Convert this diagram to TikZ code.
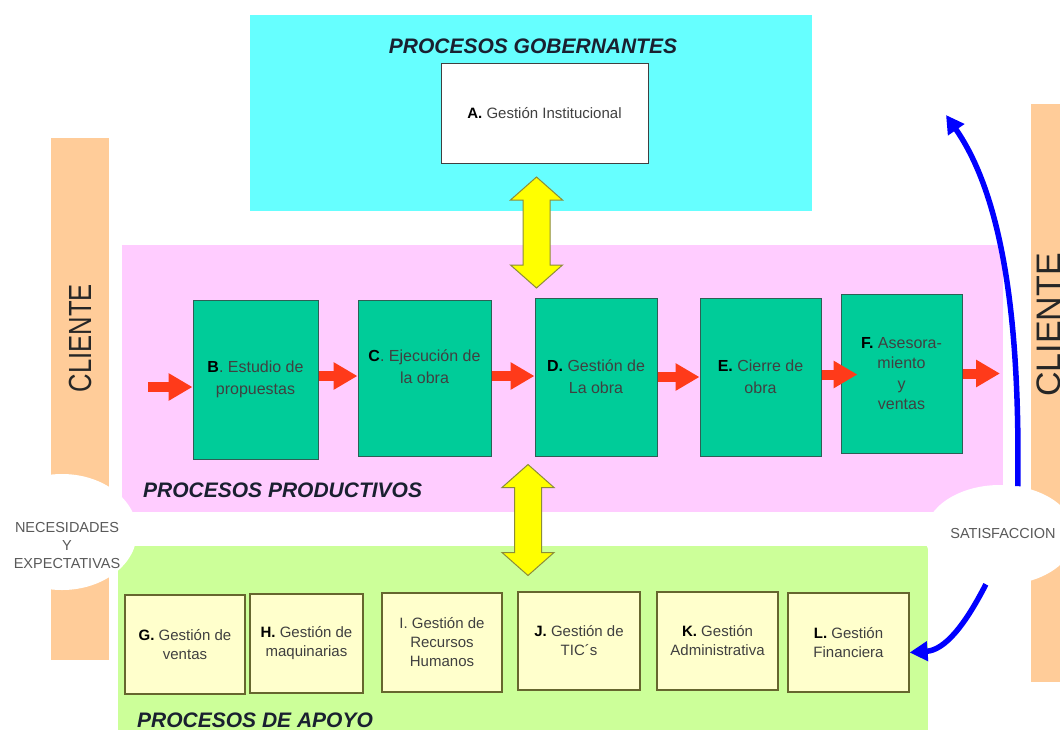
\documentclass[tikz,border=0pt]{standalone}
\usepackage{graphicx}
\usepackage{fontspec}
\setmainfont{Liberation Sans}
\usetikzlibrary{arrows.meta,shapes.geometric}
\definecolor{cyanbg}{HTML}{66FFFF}
\definecolor{pinkbg}{HTML}{FFCCFF}
\definecolor{greenbg}{HTML}{CCFF99}
\definecolor{orangebar}{HTML}{FFCC99}
\definecolor{procgreen}{HTML}{00CC99}
\definecolor{procborder}{HTML}{2E5E55}
\definecolor{creamfill}{HTML}{FFFFCC}
\definecolor{creamborder}{HTML}{66662E}
\definecolor{redarrow}{HTML}{FF3A1A}
\definecolor{yellowarrow}{HTML}{FFFF00}
\definecolor{yellowborder}{HTML}{8C8C3A}
\definecolor{bluearrow}{HTML}{0000FF}
\definecolor{txtgrey}{HTML}{404040}
\definecolor{titlecol}{HTML}{1A2030}
\tikzset{
  procbox/.style={draw=procborder, line width=1pt, fill=procgreen, inner sep=0pt, align=center, text=txtgrey, font=\fontsize{16}{22}\selectfont},
  supbox/.style={draw=creamborder, line width=1.2pt, fill=creamfill, inner sep=0pt, align=center, text=txtgrey, font=\fontsize{15}{19}\selectfont},
  govbox/.style={draw=black!75, line width=1pt, fill=white, inner sep=0pt, align=center, text=txtgrey, font=\fontsize{15}{19}\selectfont},
  areatitle/.style={inner sep=0pt, text=titlecol, font=\fontsize{21}{24}\selectfont\bfseries\itshape},
  clientetxt/.style={inner sep=0pt, rotate=90, text=black!85},
  smalltxt/.style={inner sep=0pt, align=center, text=black!65, font=\fontsize{14.5}{18}\selectfont},
  whiteoval/.style={ellipse, fill=white, inner sep=0pt},
  redflow/.style={draw=redarrow, line width=10pt, -{Triangle[width=26pt,length=24pt]}},
  blueflow/.style={draw=bluearrow, line width=5.5pt, -{Triangle[width=19pt,length=18pt]}},
  dblarrow/.pic={
    \draw[draw=yellowborder, fill=yellowarrow, line width=1pt, line join=miter]
      (0,-55.5) -- (26,-32.5) -- (13.5,-32.5) -- (13.5,32.5) -- (26,32.5) -- (0,55.5)
      -- (-26,32.5) -- (-13.5,32.5) -- (-13.5,-32.5) -- (-26,-32.5) -- cycle;
  }
}
\begin{document}
\begin{tikzpicture}[x=1pt, y=-1pt]
\useasboundingbox (0,0) rectangle (1060,729);
\clip (0,0) rectangle (1060,729);
\fill[white] (0,0) rectangle (1060,729);
% client bars
\fill[orangebar] (51,138) rectangle (109,660);
\fill[orangebar] (1031,104) rectangle (1066,682);
% areas
\fill[cyanbg] (250,15) rectangle (812,211);
\fill[pinkbg] (122,245) rectangle (1003,512);
\fill[greenbg] (118,546) rectangle (928,735);
% white ovals
\node[whiteoval, minimum width=150pt, minimum height=116pt] (necoval) at (62,532) {};
\node[whiteoval, minimum width=150pt, minimum height=100pt] (sat) at (1000,535) {};
% texts of client
\node[clientetxt, font=\fontsize{32}{32}\selectfont] (cliL) at (80,338) {\scalebox{0.8}[1]{CLIENTE}};
\node[clientetxt, font=\fontsize{34}{34}\selectfont] (cliR) at (1049,325) {CLIENTE};
\node[smalltxt] (nectxt) at (67,545) {NECESIDADES\\Y\\EXPECTATIVAS};
\node[smalltxt] (sattxt) at (1003,533) {SATISFACCION};
% governing
\node[areatitle] (tgob) at (533,46) {PROCESOS GOBERNANTES};
\node[govbox, minimum width=207pt, minimum height=100pt] (A) at (544.5,113.5) {\textbf{\color{black}A.} Gestión Institucional};
% productive
\node[procbox, minimum width=125pt, minimum height=159pt] (B) at (255.5,379.5) {\textbf{\color{black}B}. Estudio de\\propuestas};
\node[procbox, minimum width=133pt, minimum height=156pt] (C) at (424.5,378) {\textbf{\color{black}C}. Ejecución de\\la obra\\\mbox{}};
\node[procbox, minimum width=122pt, minimum height=158pt] (D) at (596,377) {\textbf{\color{black}D.} Gestión de\\La obra};
\node[procbox, minimum width=121pt, minimum height=158pt] (E) at (760.5,377) {\textbf{\color{black}E.} Cierre de\\obra};
\node[procbox, minimum width=121pt, minimum height=159pt, font=\fontsize{16}{20.5}\selectfont] (F) at (901.5,373.5) {\textbf{\color{black}F.} Asesora-\\miento\\y\\ventas};
\node[areatitle, anchor=west] (tprod) at (143,490) {PROCESOS PRODUCTIVOS};
% support
\node[supbox, minimum width=120pt, minimum height=99pt] (G) at (185,644.5) {\textbf{\color{black}G.} Gestión de\\ventas};
\node[supbox, minimum width=113pt, minimum height=99pt] (H) at (306.5,643.5) {\textbf{\color{black}H.} Gestión de\\maquinarias};
\node[supbox, minimum width=120pt, minimum height=99pt] (I) at (442,642.5) {I. Gestión de\\Recursos\\Humanos};
\node[supbox, minimum width=122pt, minimum height=98pt] (J) at (579,641) {\textbf{\color{black}J.} Gestión de\\TIC´s};
\node[supbox, minimum width=121pt, minimum height=98pt] (K) at (717.5,641) {\textbf{\color{black}K.} Gestión\\Administrativa};
\node[supbox, minimum width=121pt, minimum height=99pt] (L) at (848.5,642.5) {\textbf{\color{black}L.} Gestión\\Financiera};
\node[areatitle, anchor=west] (tapoyo) at (137,720) {PROCESOS DE APOYO};
% yellow double arrows
\pic at (536.5,232.5) {dblarrow};
\pic at (528,520) {dblarrow};
% red flow arrows
\coordinate (in0) at (148,387);
\coordinate (out0) at (1000,374);
\draw[redflow] (in0) -- (in0 -| B.west);
\draw[redflow] ([yshift=3.5pt]B.east) -- ([yshift=3.5pt]B.east -| C.west);
\draw[redflow] ([yshift=2pt]C.east) -- ([yshift=2pt]C.east -| D.west);
\draw[redflow] (D.east) -- (D.east -| E.west);
\draw[redflow] ([yshift=2.5pt]E.east) -- ([yshift=2.5pt,xshift=17pt]E.east -| F.west);
\draw[redflow] (F.east) -- (F.east -| out0);
% blue arrows
\coordinate (govtip) at (946,115);
\draw[blueflow] (sat.70) .. controls (1020,330) and (1005,200) .. (govtip);
\draw[blueflow] (sat.254) .. controls (965,625) and (945,650) .. ([yshift=-10pt]L.east);
\end{tikzpicture}
\end{document}
